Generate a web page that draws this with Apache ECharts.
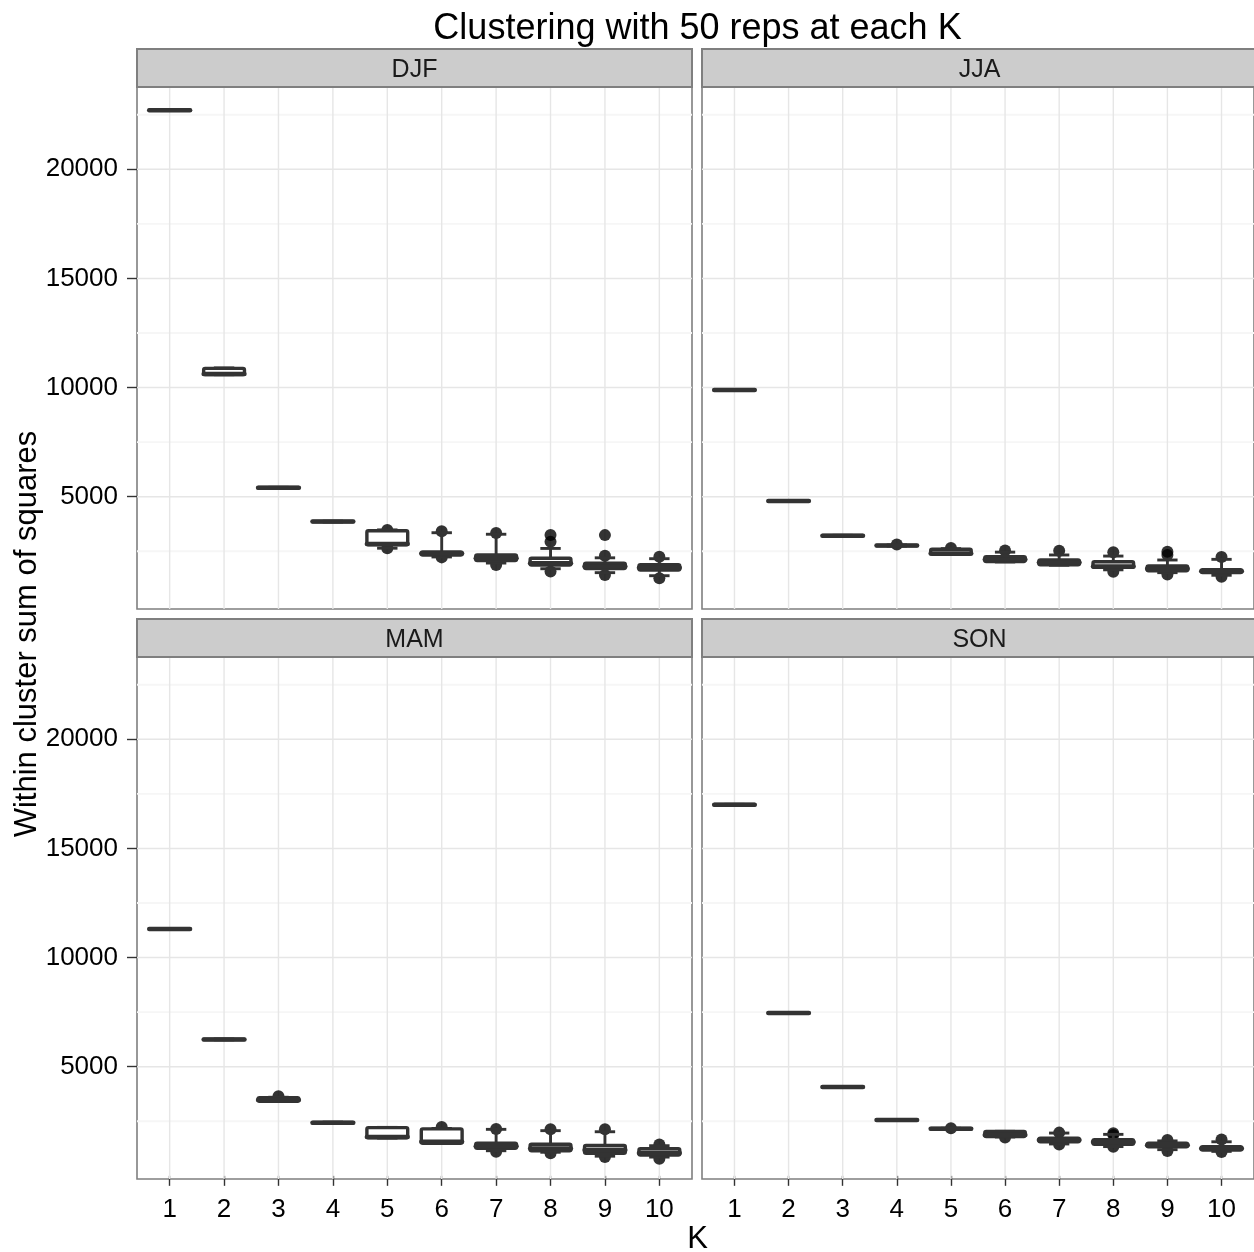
<!DOCTYPE html>
<html>
<head>
<meta charset="utf-8">
<title>Clustering with 50 reps at each K</title>
<script src="https://cdn.jsdelivr.net/npm/echarts@6/dist/echarts.min.js"></script>
<style>
  html, body { margin: 0; padding: 0; background: #ffffff; }
  #chart { width: 1254px; height: 1252px; }
</style>
</head>
<body>
<div id="chart"></div>
<script>
// ---- data: within-cluster sum of squares over 50 k-means runs per K ----
const kValues = [1, 2, 3, 4, 5, 6, 7, 8, 9, 10];
const yTicks = [5000, 10000, 15000, 20000];
const yMinor = [2500, 7500, 12500, 17500, 22500];
const seasons = ['DJF', 'JJA', 'MAM', 'SON'];

// DJF
const djfLower  = [22690, 10590, 5390, 3840, 2640, 2240, 1960, 1700, 1520, 1380];
const djfQ1     = [22700, 10600, 5400, 3850, 2800, 2330, 2080, 1870, 1710, 1640];
const djfMedian = [22710, 10620, 5410, 3860, 2830, 2400, 2180, 1950, 1800, 1740];
const djfQ3     = [22720, 10880, 5420, 3870, 3440, 2470, 2330, 2180, 1950, 1880];
const djfUpper  = [22730, 10900, 5430, 3880, 3480, 3350, 3280, 2630, 2200, 2160];
const djfPoints = [[5, 3480], [5, 2640], [6, 3420], [6, 2220], [7, 3340], [7, 1870],
                   [8, 3250], [8, 2940], [8, 1570], [9, 3240], [9, 2290], [9, 1410],
                   [10, 2250], [10, 1260]];

// JJA
const jjaLower  = [9870, 4790, 3200, 2740, 2350, 2010, 1860, 1650, 1520, 1400];
const jjaQ1     = [9880, 4800, 3210, 2750, 2360, 2030, 1880, 1760, 1610, 1530];
const jjaMedian = [9890, 4805, 3215, 2760, 2400, 2120, 1990, 1800, 1700, 1580];
const jjaQ3     = [9900, 4810, 3220, 2770, 2590, 2250, 2100, 2020, 1830, 1650];
const jjaUpper  = [9910, 4820, 3230, 2790, 2620, 2460, 2330, 2280, 2100, 2130];
const jjaPoints = [[4, 2810], [5, 2650], [6, 2530], [7, 2520], [8, 2450], [8, 1560],
                   [9, 2480], [9, 2330], [9, 1440], [10, 2240], [10, 1330]];

// MAM
const mamLower  = [11290, 6230, 3410, 2400, 1730, 1480, 1150, 1080, 900, 860];
const mamQ1     = [11300, 6240, 3420, 2410, 1740, 1490, 1260, 1150, 1030, 950];
const mamMedian = [11310, 6250, 3480, 2430, 1780, 1560, 1350, 1250, 1180, 1050];
const mamQ3     = [11320, 6260, 3580, 2450, 2210, 2150, 1490, 1450, 1390, 1240];
const mamUpper  = [11330, 6270, 3600, 2460, 2220, 2170, 2130, 2070, 2020, 1380];
const mamPoints = [[3, 3650], [6, 2240], [7, 2150], [7, 1100], [8, 2130], [8, 1030],
                   [9, 2130], [9, 860], [10, 1440], [10, 780]];

// SON
const sonLower  = [16980, 7440, 4050, 2540, 2130, 1780, 1460, 1340, 1200, 1120];
const sonQ1     = [16990, 7450, 4060, 2550, 2140, 1800, 1560, 1450, 1330, 1180];
const sonMedian = [17000, 7460, 4070, 2555, 2155, 1870, 1640, 1550, 1400, 1250];
const sonQ3     = [17010, 7470, 4080, 2560, 2170, 2030, 1720, 1650, 1490, 1340];
const sonUpper  = [17020, 7480, 4090, 2570, 2180, 2040, 1960, 1900, 1600, 1560];
const sonPoints = [[5, 2180], [6, 1760], [7, 1980], [7, 1440], [8, 1950], [8, 1870],
                   [8, 1330], [9, 1640], [9, 1140], [10, 1670], [10, 1090]];

const seasonData = {
  DJF: { lower: djfLower, q1: djfQ1, median: djfMedian, q3: djfQ3, upper: djfUpper, points: djfPoints },
  JJA: { lower: jjaLower, q1: jjaQ1, median: jjaMedian, q3: jjaQ3, upper: jjaUpper, points: jjaPoints },
  MAM: { lower: mamLower, q1: mamQ1, median: mamMedian, q3: mamQ3, upper: mamUpper, points: mamPoints },
  SON: { lower: sonLower, q1: sonQ1, median: sonMedian, q3: sonQ3, upper: sonUpper, points: sonPoints }
};

// ---- layout ----
const FONT = '"Liberation Sans", Arial, Helvetica, sans-serif';
const PANEL_W = 555, PANEL_H = 522, STRIP_H = 38;
const panelPos = [
  { left: 137, top: 87 },   // DJF
  { left: 702, top: 87 },   // JJA
  { left: 137, top: 657 },  // MAM
  { left: 702, top: 657 }   // SON
];
const Y_MIN = -145, Y_MAX = 23771;
const X_MIN = 0.4, X_MAX = 10.6;
const BOX_WIDTH = 0.75;
const INK = '#333333';
const FRAME = '#7f7f7f';

const chart = echarts.init(document.getElementById('chart'), null, { renderer: 'canvas' });

const grids = [], xAxes = [], yAxes = [], series = [], graphics = [];

// grid line items: [x, y, kind]  kind 0 = major horizontal, 1 = minor horizontal, 2 = vertical
const gridItems = []
  .concat(yTicks.map(v => [1, v, 0]))
  .concat(yMinor.map(v => [1, v, 1]))
  .concat(kValues.map(k => [k, 0, 2]));

function renderGridLine(params, api) {
  const cs = params.coordSys;
  const kind = api.value(2);
  if (kind === 2) {
    const x = api.coord([api.value(0), 0])[0];
    return { type: 'line', shape: { x1: x, y1: cs.y, x2: x, y2: cs.y + cs.height },
             style: { stroke: '#e6e6e6', lineWidth: 1.4 } };
  }
  const y = api.coord([1, api.value(1)])[1];
  return { type: 'line', shape: { x1: cs.x, y1: y, x2: cs.x + cs.width, y2: y },
           style: { stroke: kind === 0 ? '#e6e6e6' : '#f6f6f6', lineWidth: kind === 0 ? 1.4 : 1.8 } };
}

function renderBox(params, api) {
  const k = api.value(0);
  const lo = api.coord([k, api.value(1)]);
  const q1 = api.coord([k, api.value(2)]);
  const md = api.coord([k, api.value(3)]);
  const q3 = api.coord([k, api.value(4)]);
  const hi = api.coord([k, api.value(5)]);
  const bw = api.size([BOX_WIDTH, 0])[0];
  const half = bw / 2, cap = bw / 4;
  const x = lo[0];
  const lineStyle = { stroke: INK, lineWidth: 2.9, lineCap: 'butt' };
  return {
    type: 'group',
    children: [
      { type: 'line', shape: { x1: x, y1: hi[1], x2: x, y2: q3[1] }, style: lineStyle },
      { type: 'line', shape: { x1: x, y1: q1[1], x2: x, y2: lo[1] }, style: lineStyle },
      { type: 'line', shape: { x1: x - cap, y1: hi[1], x2: x + cap, y2: hi[1] }, style: lineStyle },
      { type: 'line', shape: { x1: x - cap, y1: lo[1], x2: x + cap, y2: lo[1] }, style: lineStyle },
      { type: 'rect', shape: { x: x - half, y: q3[1], width: bw, height: q1[1] - q3[1], r: 1.5 },
        style: { fill: '#ffffff', stroke: INK, lineWidth: 3.4, lineJoin: 'round' } },
      { type: 'line', shape: { x1: x - half, y1: md[1], x2: x + half, y2: md[1] },
        style: { stroke: INK, lineWidth: 4.5, lineCap: 'round' } }
    ]
  };
}

seasons.forEach((name, i) => {
  const p = panelPos[i];
  const d = seasonData[name];
  const isLeft = (i % 2 === 0);
  const isBottom = (i >= 2);

  grids.push({
    left: p.left, top: p.top, width: PANEL_W, height: PANEL_H,
    show: true, backgroundColor: '#ffffff', borderColor: FRAME, borderWidth: 1.6,
    containLabel: false
  });

  xAxes.push({
    type: 'value', gridIndex: i, min: X_MIN, max: X_MAX,
    axisLine: { show: false },
    splitLine: { show: false },
    axisTick: { show: isBottom, customValues: kValues, length: 10,
                lineStyle: { color: INK, width: 1.4 } },
    axisLabel: { show: isBottom, customValues: kValues, margin: 18,
                 fontFamily: FONT, fontSize: 26, color: '#000000',
                 formatter: v => String(v) }
  });

  yAxes.push({
    type: 'value', gridIndex: i, min: Y_MIN, max: Y_MAX,
    axisLine: { show: false },
    splitLine: { show: false },
    axisTick: { show: isLeft, customValues: yTicks, length: 10,
                lineStyle: { color: INK, width: 1.4 } },
    axisLabel: { show: isLeft, customValues: yTicks, margin: 19,
                 fontFamily: FONT, fontSize: 26, color: '#000000',
                 formatter: v => String(v) }
  });

  series.push({
    type: 'custom', name: name + ' grid', xAxisIndex: i, yAxisIndex: i,
    data: gridItems, encode: { x: 0, y: 1 }, renderItem: renderGridLine,
    silent: true, z: 1, clip: true
  });

  series.push({
    type: 'scatter', name: name + ' runs', xAxisIndex: i, yAxisIndex: i,
    data: d.points, symbol: 'circle', symbolSize: 12,
    itemStyle: { color: '#000000' }, silent: true, z: 2
  });

  const boxData = kValues.map((k, j) => [k, d.lower[j], d.q1[j], d.median[j], d.q3[j], d.upper[j]]);
  series.push({
    type: 'custom', name: name + ' boxes', xAxisIndex: i, yAxisIndex: i,
    data: boxData, encode: { x: 0, y: [1, 2, 3, 4, 5] }, renderItem: renderBox,
    silent: true, z: 3
  });

  // facet strip
  graphics.push({
    type: 'rect', silent: true, z: 10,
    shape: { x: p.left, y: p.top - STRIP_H, width: PANEL_W, height: STRIP_H },
    style: { fill: '#cccccc', stroke: FRAME, lineWidth: 2 }
  });
  graphics.push({
    type: 'text', silent: true, z: 11,
    x: p.left + PANEL_W / 2, y: p.top - STRIP_H / 2 + 2,
    style: { text: name, fontFamily: FONT, fontSize: 25, fill: '#1a1a1a',
             textAlign: 'center', textVerticalAlign: 'middle' }
  });
});

// title and axis titles
graphics.push({
  type: 'text', silent: true, z: 11, x: 697.5, y: 29,
  style: { text: 'Clustering with 50 reps at each K', fontFamily: FONT, fontSize: 36,
           fill: '#000000', textAlign: 'center', textVerticalAlign: 'middle' }
});
graphics.push({
  type: 'text', silent: true, z: 11, x: 697.5, y: 1239,
  style: { text: 'K', fontFamily: FONT, fontSize: 31, fill: '#000000',
           textAlign: 'center', textVerticalAlign: 'middle' }
});
graphics.push({
  type: 'text', silent: true, z: 11, x: 27, y: 634, rotation: Math.PI / 2,
  style: { text: 'Within cluster sum of squares', fontFamily: FONT, fontSize: 31, fill: '#000000',
           textAlign: 'center', textVerticalAlign: 'middle' }
});

chart.setOption({
  animation: false,
  backgroundColor: '#ffffff',
  grid: grids,
  xAxis: xAxes,
  yAxis: yAxes,
  series: series,
  graphic: graphics
});
</script>
</body>
</html>
